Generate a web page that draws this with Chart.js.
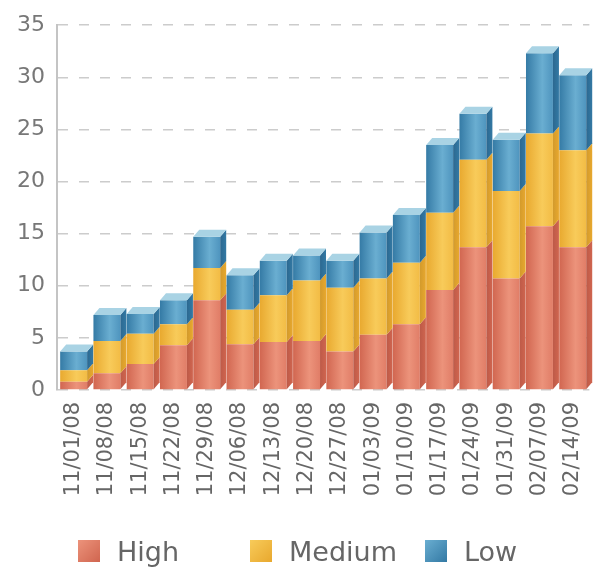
<!DOCTYPE html>
<html>
<head>
<meta charset="utf-8">
<script src="https://cdn.jsdelivr.net/npm/chart.js@4.4.1/dist/chart.umd.min.js"></script>
<style>
  html, body { margin: 0; padding: 0; background: #ffffff; }
  #wrap { width: 610px; height: 571px; position: relative; overflow: hidden; }
  #legend { position: absolute; left: 0; top: 0; width: 610px; height: 571px; pointer-events: none; }
  .item { position: absolute; top: 534px; height: 34px; display: flex; align-items: center;
          font-family: "DejaVu Sans", sans-serif; font-size: 27px; color: #666666; white-space: nowrap; }
  .item .box { width: 22px; height: 22px; margin-right: 17px; }
  .item:nth-child(1) { left: 78px; }
  .item:nth-child(2) { left: 250px; }
  .item:nth-child(3) { left: 425px; }
</style>
</head>
<body>
<div id="wrap">
  <canvas id="c" width="610" height="571"></canvas>
  <div id="legend"></div>
</div>
<script>
const categories = ["11/01/08","11/08/08","11/15/08","11/22/08","11/29/08","12/06/08","12/13/08","12/20/08","12/27/08","01/03/09","01/10/09","01/17/09","01/24/09","01/31/09","02/07/09","02/14/09"];
const highValues   = [0.8, 1.6, 2.5, 4.3, 8.6, 4.4, 4.6, 4.7, 3.7, 5.3, 6.3, 9.6, 13.7, 10.7, 15.7, 13.7];
const mediumValues = [1.1, 3.1, 2.9, 2.0, 3.1, 3.3, 4.5, 5.8, 6.1, 5.4, 5.9, 7.4, 8.4, 8.4, 8.9, 9.3];
const lowValues    = [1.8, 2.5, 1.9, 2.3, 3.0, 3.3, 3.3, 2.4, 2.6, 4.4, 4.6, 6.5, 4.4, 4.9, 7.7, 7.2];
const seriesNames = ["High", "Medium", "Low"];

const palette = {
  High:   { dark: "#d0654f", light: "#ec937b", side: "#bd5a48", solid: "#e07c66" },
  Medium: { dark: "#e8a82e", light: "#f8cb5a", side: "#d29a2c", solid: "#f2bb44" },
  Low:    { dark: "#3379a4", light: "#6aaed1", side: "#2c6890", solid: "#4d93bd" }
};
const TOP_FACE = "#a9d3e4";
const DX = 6, DY = 7;

function frontFill(name) {
  return function (ctx) {
    const chart = ctx.chart;
    const p = palette[name];
    if (ctx.dataIndex === undefined || !chart.chartArea) {
      return p.solid;
    }
    const meta = chart.getDatasetMeta(ctx.datasetIndex);
    const el = meta.data[ctx.dataIndex];
    const xs = chart.scales.x;
    const cx = xs.getPixelForValue(ctx.dataIndex);
    const w = (el && el.width) ? el.width : 28;
    const g = chart.ctx.createLinearGradient(cx - w / 2, 0, cx + w / 2, 0);
    g.addColorStop(0, p.dark);
    g.addColorStop(0.6, p.light);
    g.addColorStop(1, p.solid);
    return g;
  };
}

const bar3d = {
  id: "bar3d",
  afterDatasetsDraw(chart) {
    const c = chart.ctx;
    const n = chart.data.datasets.length;
    c.save();
    for (let d = 0; d < n; d++) {
      const meta = chart.getDatasetMeta(d);
      const name = chart.data.datasets[d].label;
      const p = palette[name];
      meta.data.forEach((el) => {
        const props = el.getProps(["x", "y", "base", "width"], true);
        const right = props.x + props.width / 2;
        const left = props.x - props.width / 2;
        const top = Math.min(props.y, props.base);
        const bottom = Math.max(props.y, props.base);
        const sg = c.createLinearGradient(right, 0, right + DX, 0);
        sg.addColorStop(0, p.side);
        sg.addColorStop(1, p.dark);
        c.fillStyle = sg;
        c.beginPath();
        c.moveTo(right, bottom);
        c.lineTo(right, top);
        c.lineTo(right + DX, top - DY);
        c.lineTo(right + DX, bottom - DY);
        c.closePath();
        c.fill();
        if (d === n - 1) {
          c.fillStyle = TOP_FACE;
          c.beginPath();
          c.moveTo(left, top);
          c.lineTo(left + DX, top - DY);
          c.lineTo(right + DX, top - DY);
          c.lineTo(right, top);
          c.closePath();
          c.fill();
        }
      });
    }
    c.restore();
  }
};

const valueLists = [highValues, mediumValues, lowValues];
const datasets = seriesNames.map((name, i) => ({
  label: name,
  data: valueLists[i],
  backgroundColor: frontFill(name),
  borderWidth: 0,
  barPercentage: 0.81,
  categoryPercentage: 1.0
}));

// HTML legend built from the series names
const legendEl = document.getElementById("legend");
seriesNames.forEach((name) => {
  const p = palette[name];
  const item = document.createElement("div");
  item.className = "item";
  const box = document.createElement("span");
  box.className = "box";
  box.style.background = "linear-gradient(135deg, " + p.light + ", " + p.dark + ")";
  const txt = document.createElement("span");
  txt.textContent = name;
  item.appendChild(box);
  item.appendChild(txt);
  legendEl.appendChild(item);
});

new Chart(document.getElementById("c"), {
  type: "bar",
  data: { labels: categories, datasets: datasets },
  plugins: [bar3d],
  options: {
    responsive: false,
    animation: false,
    layout: { padding: { top: 12, right: 2, left: 0, bottom: 71 } },
    plugins: {
      tooltip: { enabled: false },
      legend: { display: false }
    },
    scales: {
      x: {
        stacked: true,
        grid: { display: false, drawTicks: false },
        border: { display: false },
        ticks: {
          minRotation: 90,
          maxRotation: 90,
          autoSkip: false,
          padding: 12,
          color: "#666666",
          font: { family: "DejaVu Sans", size: 21 }
        },
        afterFit(scale) { scale.height = 110; }
      },
      y: {
        stacked: true,
        min: 0,
        max: 35,
        ticks: {
          stepSize: 5,
          padding: 12,
          color: "#777777",
          font: { family: "DejaVu Sans", size: 22 }
        },
        grid: {
          drawTicks: false,
          color: "#cccccc",
          lineWidth: 1.5
        },
        border: { display: true, color: "#c4c4c4", width: 2, dash: [10, 11] },
        afterFit(scale) { scale.width = 57; }
      }
    }
  }
});
</script>
</body>
</html>
